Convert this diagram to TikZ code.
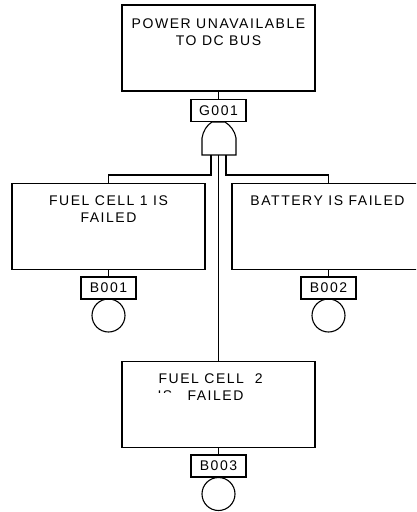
\documentclass[tikz,border=0pt]{standalone}
\usepackage{fontspec}
\setmainfont{Liberation Sans}[LetterSpace=11]
\begin{document}
\begin{tikzpicture}[x=1pt,y=-1pt, line width=1.1pt,
  evbox/.style={draw, rectangle, minimum width=193pt, minimum height=86pt, inner sep=0pt, outer sep=0pt},
  idbox/.style={draw, rectangle, minimum width=55pt, minimum height=22pt, inner sep=0pt, outer sep=0pt, font=\fontsize{14}{15}\selectfont},
  txt/.style={inner sep=0pt, font=\fontsize{14}{17}\selectfont, anchor=base},
  txtw/.style={txt, anchor=base west},
  basic/.style={draw, circle, minimum size=33pt, inner sep=0pt, outer sep=0pt}]
\useasboundingbox (0,0) rectangle (416,512);
\clip (0,0) rectangle (416,512);

% top event
\node[evbox] (top) at (218.5,48) {};
\node[txt] (t1) at (218.5,28) {POWER UNAVAILABLE};
\node[txt] (t2) at (218.5,45) {TO DC BUS};
\node[idbox] (g001) at (218.5,110.5) {G001};
\draw (top.south) -- (g001.north);

% AND gate
\draw (202,155) -- (202,138) .. controls (203,131) and (207,125) .. (212,122)
      -- (225,122) .. controls (230,125) and (235,131) .. (236,138) -- (236,155) -- cycle;
\coordinate (gL) at (211,155);
\coordinate (gM) at (218.5,155);
\coordinate (gR) at (226,155);
\coordinate (busL) at (211,175);
\coordinate (busR) at (226,175);

% fuel cell 1
\node[evbox] (fc1) at (108.5,226.5) {};
\node[txt] (f1a) at (108.5,205.5) {FUEL CELL 1 IS};
\node[txt] (f1b) at (108.5,222.5) {FAILED};
\node[idbox] (b001) at (108.5,288) {B001};
\node[basic] (c1) at (108.5,315.5) {};

% battery
\node[evbox] (bat) at (328.5,226.5) {};
\node[txt] (ba) at (327.5,205.5) {BATTERY IS FAILED};
\node[idbox] (b002) at (328.5,288) {B002};
\node[basic] (c2) at (328.5,315.5) {};

% fuel cell 2
\node[evbox] (fc2) at (218.5,404.5) {};
\node[txtw] (f2a) at (158,383.5) {FUEL CELL\ \ 2};
\begin{scope}
  \clip (150,385) rectangle (180,392.5);
  \node[txtw] (f2is) at (157,400.5) {IS};
\end{scope}
\node[txtw] (f2b) at (187,400.5) {FAILED};
\node[idbox] (b003) at (218.5,466) {B003};
\node[basic] (c3) at (218.5,494) {};

% connectors
\draw (gL) -- (busL) -| (fc1.north);
\draw (gR) -- (busR) -| (bat.north);
\draw (gM) -- (fc2.north);
\draw (fc1.south) -- (b001.north);
\draw (bat.south) -- (b002.north);
\draw (fc2.south) -- (b003.north);
\end{tikzpicture}
\end{document}
